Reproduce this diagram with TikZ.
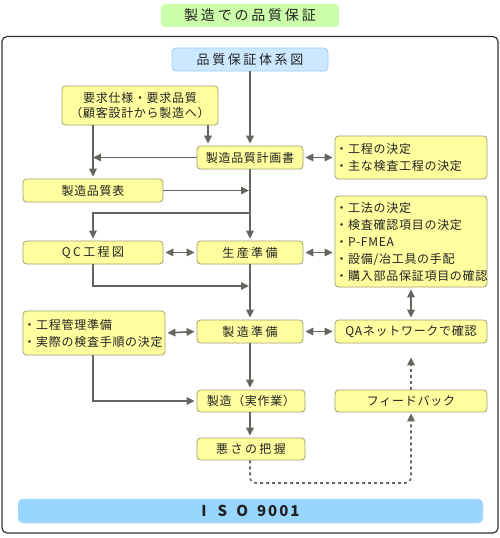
\documentclass[tikz,border=0pt]{standalone}
\usepackage{fontspec}
\setmainfont{Noto Sans CJK JP}
\newfontfamily\jp{Noto Sans CJK JP}
\newfontfamily\jpls[LetterSpace=20]{Noto Sans CJK JP}
\newfontfamily\jplt[LetterSpace=6]{Noto Sans CJK JP}
\usetikzlibrary{arrows.meta}
\definecolor{lineg}{HTML}{666660}
\definecolor{yfill}{HTML}{FFFF9F}
\definecolor{ydraw}{HTML}{A0A070}
\definecolor{bfill}{HTML}{CCE8FF}
\definecolor{bdraw}{HTML}{99CCFF}
\definecolor{isofill}{HTML}{99D6FF}
\definecolor{gfill}{HTML}{CCFFAA}
\definecolor{txt}{HTML}{222222}
\tikzset{
  ybox/.style={draw=ydraw, fill=yfill, rounded corners=3.5pt, line width=0.8pt,
    inner sep=0pt, text=txt, font=\jplt\fontsize{12}{17}\selectfont},
  lbox/.style={ybox, align=left, inner xsep=0.5pt},
  arr/.style={draw=lineg, line width=1.6pt, -{Triangle[length=8pt,width=7.5pt]}, shorten >=2pt},
  darr/.style={draw=lineg, line width=1.6pt, {Triangle[length=8pt,width=7.5pt]}-{Triangle[length=8pt,width=7.5pt]}, shorten >=2pt, shorten <=2pt},
  dsh/.style={draw=lineg, line width=1.6pt, dash pattern=on 3pt off 3pt, -{Triangle[length=8pt,width=7.5pt]}}
}
\begin{document}
\begin{tikzpicture}[x=1pt,y=-1pt]
\useasboundingbox (0,0) rectangle (500,538);
% title
\node[fill=gfill, draw=gfill!80!white, rounded corners=4pt, minimum width=178pt, minimum height=23pt, inner sep=0pt, text=txt, font=\jpls\fontsize{14}{16}\selectfont] (title) at (250,15.5) {製造での品質保証};
% frame
\draw[draw=black!80, line width=1.2pt, rounded corners=5pt] (2,36.5) rectangle (498,533);
\node[draw=bdraw, fill=bfill, rounded corners=4pt, line width=0.8pt, minimum width=156pt, minimum height=23pt, inner sep=0pt, text=txt, font=\jpls\fontsize{13}{16}\selectfont] (top) at (250,59.5) {品質保証体系図};
% boxes
\node[ybox, minimum width=156pt, minimum height=39pt, align=center] (req) at (140,105.5) {要求仕様・要求品質\\[-2pt]（顧客設計から製造へ）};
\node[ybox, minimum width=106pt, minimum height=23pt] (plan) at (250,157.5) {製造品質計画書};
\node[lbox, text width=151pt, minimum height=43pt] (dec1) at (411,157.5) {・工程の決定\\・主な検査工程の決定};
\node[ybox, minimum width=140pt, minimum height=23pt] (hyo) at (93,190.5) {製造品質表};
\node[lbox, text width=151pt, minimum height=91pt] (dec2) at (411,241.5) {・工法の決定\\・検査確認項目の決定\\・P-FMEA\\・設備/冶工具の手配\\・購入部品保証項目の確認};
\node[ybox, minimum width=140pt, minimum height=23pt, font=\jpls\fontsize{12}{17}\selectfont] (qc) at (93,252.5) {QC工程図};
\node[ybox, minimum width=106pt, minimum height=23pt, font=\jpls\fontsize{12}{17}\selectfont] (prep) at (250,252.5) {生産準備};
\node[lbox, text width=141pt, minimum height=44pt] (kanri) at (94,333) {・工程管理準備\\・実際の検査手順の決定};
\node[ybox, minimum width=106pt, minimum height=23pt, font=\jpls\fontsize{12}{17}\selectfont] (mprep) at (250,331.5) {製造準備};
\node[ybox, minimum width=152pt, minimum height=23pt] (qa) at (411,331.5) {QAネットワークで確認};
\node[ybox, minimum width=108pt, minimum height=22pt] (jitsu) at (251,401) {製造（実作業）};
\node[ybox, minimum width=152pt, minimum height=22pt] (fb) at (411,401) {フィードバック};
\node[ybox, minimum width=108pt, minimum height=22pt, font=\jpls\fontsize{12}{17}\selectfont] (warusa) at (251,449) {悪さの把握};
\node[fill=isofill, draw=isofill!80!white, rounded corners=5pt, minimum width=465pt, minimum height=24pt, inner sep=0pt, text=txt, font=\jp\bfseries\fontsize{15}{16}\selectfont] (iso) at (250.5,511) {I\hspace{11pt}S\hspace{9pt}O\hspace{9pt}9\hspace{2pt}0\hspace{2pt}0\hspace{2pt}1};
% coordinates
\coordinate (br1) at (250,213);
\coordinate (j2) at (250,286);
\coordinate (dc) at (411,483);
% connectors
\draw[arr] (top.south) -- (plan.north);
\draw[arr] ([xshift=68pt]req.south) -- ([xshift=68pt]req.south |- plan.north);
\draw[arr] (hyo.north |- req.south) -- (hyo.north);
\draw[arr, shorten >=0pt] (plan.west) -- (plan.west -| hyo.north);
\draw[darr] (plan.east) -- (dec1.west);
\draw[arr] (plan.south) -- (prep.north);
\draw[arr, shorten >=1pt] (hyo.east) -- (hyo.east -| plan.south);
\draw[arr] (br1) -| (qc.north);
\draw[darr] (qc.east) -- (prep.west);
\draw[darr] (prep.east) -- (prep.east -| dec2.west);
\draw[arr, shorten >=1pt] (qc.south) |- (j2);
\draw[arr] (prep.south) -- (mprep.north);
\draw[darr] (dec2.south) -- (qa.north);
\draw[darr] (kanri.east) -- (mprep.west);
\draw[darr] (mprep.east) -- (qa.west);
\draw[arr] (mprep.south) -- (mprep.south |- jitsu.north);
\draw[arr] (kanri.south -| hyo.south) |- (jitsu.west);
\draw[arr] (jitsu.south -| mprep.south) -- (mprep.south |- warusa.north);
\draw[dsh, rounded corners=6pt, shorten >=1pt] (warusa.south -| mprep.south) |- (dc) -- (fb.south);
\draw[dsh, shorten >=14pt] (fb.north) -- (qa.south);
\end{tikzpicture}
\end{document}
